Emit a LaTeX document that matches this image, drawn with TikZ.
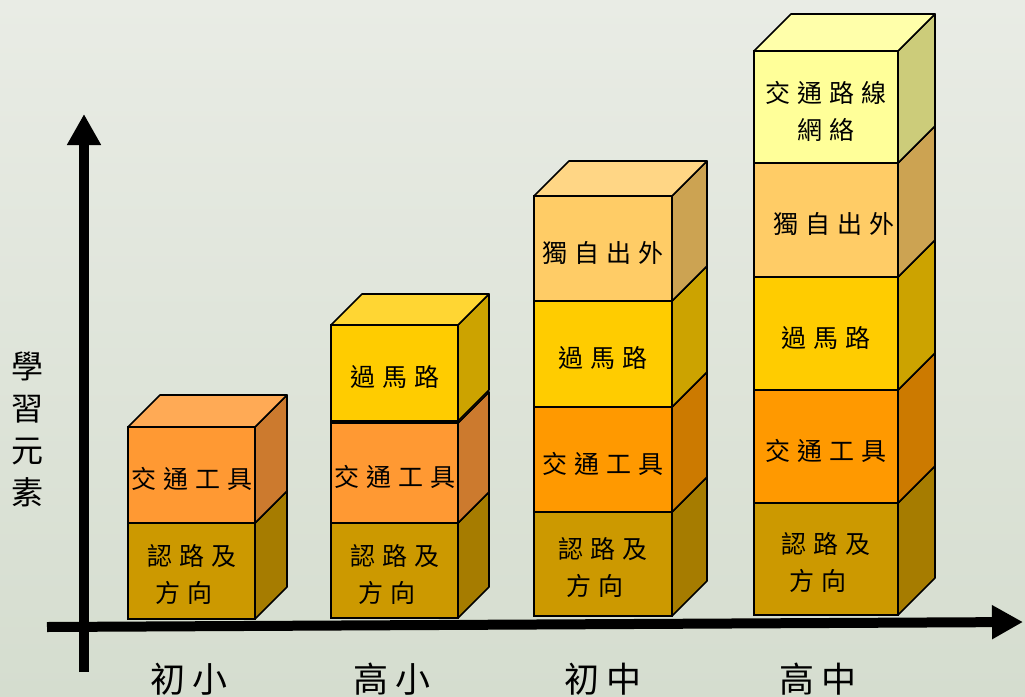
\documentclass[tikz,border=0pt]{standalone}
\usepackage{fontspec}
\newfontfamily\cjk{Noto Sans CJK TC}
\usetikzlibrary{arrows.meta}
\definecolor{bgtop}{HTML}{E9ECE5}
\definecolor{bgbot}{HTML}{D5DDCF}
\definecolor{goldF}{HTML}{CC9900}\definecolor{goldS}{HTML}{A67C00}\definecolor{goldT}{HTML}{D9AD26}
\definecolor{oraAF}{HTML}{FF9933}\definecolor{oraAS}{HTML}{CC7A2E}\definecolor{oraAT}{HTML}{FFAA55}
\definecolor{oraBF}{HTML}{FF9900}\definecolor{oraBS}{HTML}{CC7A00}\definecolor{oraBT}{HTML}{FFAD33}
\definecolor{yelF}{HTML}{FFCC00}\definecolor{yelS}{HTML}{CCA300}\definecolor{yelT}{HTML}{FFD633}
\definecolor{pchF}{HTML}{FFCC66}\definecolor{pchS}{HTML}{CCA352}\definecolor{pchT}{HTML}{FFD685}
\definecolor{palF}{HTML}{FFFF99}\definecolor{palS}{HTML}{CCCC7A}\definecolor{palT}{HTML}{FFFFAA}
\newcommand\gp{\hspace{7pt}}
\newcommand\gq{\hspace{8pt}}
% #1 name, #2 x, #3 ytop, #4 ybot, #5 width, #6 depth, #7 colour prefix
\newcommand\blk[7]{%
  \draw[edge, fill=#7S] (#2+#5,#4) -- (#2+#5+#6,#4-#6) -- (#2+#5+#6,#3-#6) -- (#2+#5,#3) -- cycle;
  \draw[edge, fill=#7T] (#2,#3) -- (#2+#6,#3-#6) -- (#2+#5+#6,#3-#6) -- (#2+#5,#3) -- cycle;
  \node[face, fill=#7F, minimum width=#5, minimum height={#4-#3}] (#1) at ({#2+#5/2},{(#3+#4)/2}) {};
}
\begin{document}
\begin{tikzpicture}[x=1pt,y=-1pt,
  edge/.style={draw=black, line width=1.6pt, line join=round},
  face/.style={draw=black, line width=1.6pt, inner sep=0pt, outer sep=0pt},
  lbl/.style={font=\cjk\fontsize{25}{37}\selectfont, align=center, inner sep=0pt, text=black, yshift=-4pt},
  axlbl/.style={font=\cjk\fontsize{35}{42}\selectfont, inner sep=0pt, text=black},
  axis/.style={line width=10pt, draw=black, -{Triangle[length=31pt,width=32pt]}}]
\clip (0,0) rectangle (1025,696);
\shade[top color=bgtop, bottom color=bgbot] (0,0) rectangle (1025,696);

% column 1
\blk{c1a}{128}{523}{619}{127}{32}{gold}
\blk{c1b}{128}{427}{523}{127}{32}{oraA}
% column 2
\blk{c2a}{331}{523}{618}{127}{31}{gold}
\blk{c2b}{331}{423}{523}{127}{31}{oraA}
\blk{c2c}{331}{325}{421}{127}{31}{yel}
% column 3
\blk{c3a}{534}{512}{616}{138}{35}{gold}
\blk{c3b}{534}{407}{512}{138}{35}{oraB}
\blk{c3c}{534}{301}{407}{138}{35}{yel}
\blk{c3d}{534}{196}{301}{138}{35}{pch}
% column 4
\blk{c4a}{754}{503}{615}{144}{37}{gold}
\blk{c4b}{754}{390}{503}{144}{37}{oraB}
\blk{c4c}{754}{277}{390}{144}{37}{yel}
\blk{c4d}{754}{163}{277}{144}{37}{pch}
\blk{c4e}{754}{51}{163}{144}{37}{pal}

% labels
\node[lbl] (l1a) at (c1a) {認\gp 路\gp 及\\方\gp 向\kern16pt};
\node[lbl] (l1b) at (c1b) {交\gp 通\gp 工\gp 具};
\node[lbl] (l2a) at (c2a) {認\gp 路\gp 及\\方\gp 向\kern16pt};
\node[lbl] (l2b) at (c2b) {交\gp 通\gp 工\gp 具};
\node[lbl] (l2c) at (c2c) {過\gp 馬\gp 路};
\node[lbl] (l3a) at (c3a) {認\gp 路\gp 及\\方\gp 向\kern16pt};
\node[lbl] (l3b) at (c3b) {交\gp 通\gp 工\gp 具};
\node[lbl] (l3c) at (c3c) {過\gp 馬\gp 路};
\node[lbl] (l3d) at (c3d) {獨\gp 自\gp 出\gp 外};
\node[lbl] (l4a) at (c4a) {認\gp 路\gp 及\\方\gp 向\kern16pt};
\node[lbl] (l4b) at (c4b) {交\gp 通\gp 工\gp 具};
\node[lbl] (l4c) at (c4c) {過\gp 馬\gp 路};
\node[lbl, xshift=8pt] (l4d) at (c4d) {獨\gp 自\gp 出\gp 外};
\node[lbl] (l4e) at (c4e) {交\gp 通\gp 路\gp 線\\網\gp 絡};

% axes
\coordinate (yb) at (84,672);
\coordinate (yt) at (84,114);
\coordinate (xl) at (47,627);
\coordinate (xr) at (1023,622);
\draw[axis] (yb) -- (yt);
\draw[axis] (xl) -- (xr);

% axis labels
\node[axlbl] (t1) at (189,679) {初\gq 小};
\node[axlbl] (t2) at (392,679) {高\gq 小};
\node[axlbl] (t3) at (603,679) {初\gq 中};
\node[axlbl] (t4) at (818,679) {高\gq 中};
\node[font=\cjk\fontsize{32}{42}\selectfont, align=center, inner sep=0pt] (ylab) at (27,429) {學\\習\\元\\素};
\end{tikzpicture}
\end{document}
